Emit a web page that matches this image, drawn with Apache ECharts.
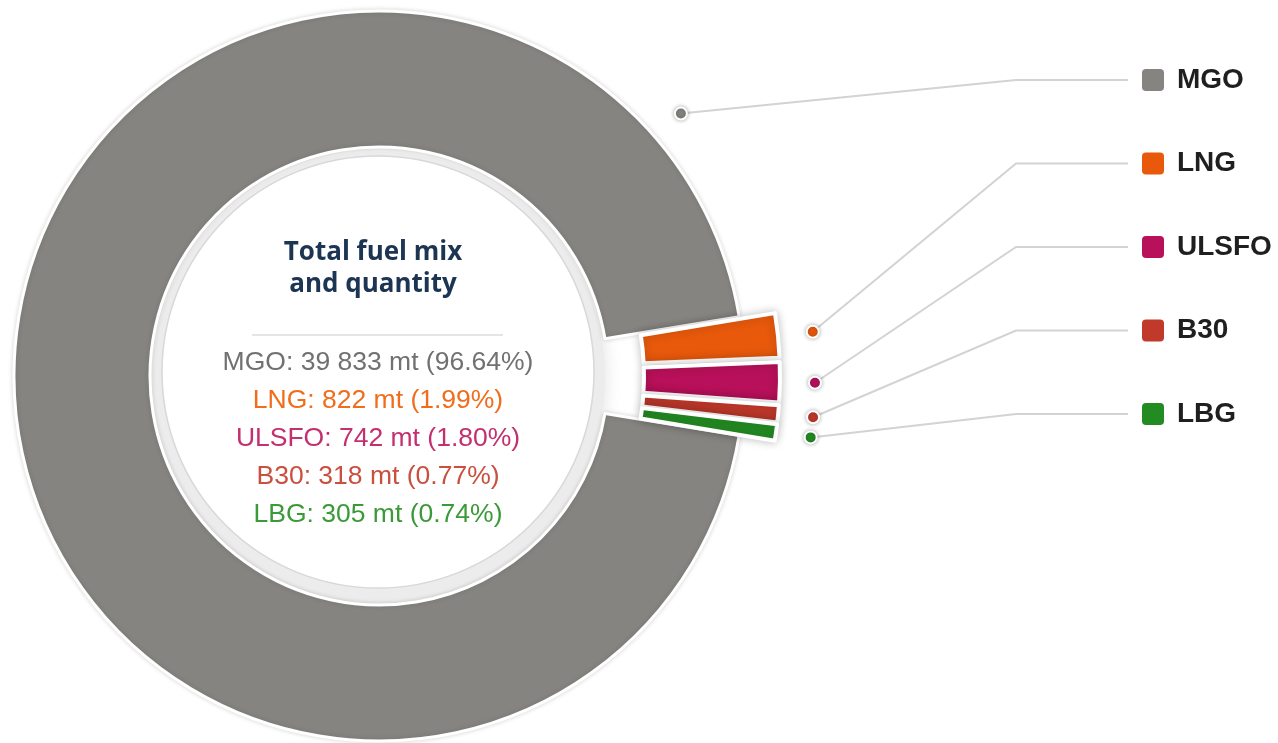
<!DOCTYPE html>
<html>
<head>
<meta charset="utf-8">
<script src="https://cdn.jsdelivr.net/npm/echarts@6/dist/echarts.min.js"></script>
<style>
  html, body { margin: 0; padding: 0; background: #ffffff; }
  #chart { width: 1278px; height: 743px; }
</style>
</head>
<body>
<div id="chart"></div>
<script>
// Fuel mix data
const fuels = ['MGO', 'LNG', 'ULSFO', 'B30', 'LBG'];
const quantities = [39833, 822, 742, 318, 305];
const shares = ['96.64%', '1.99%', '1.80%', '0.77%', '0.74%'];

// Colours
const sliceColors = ['#858480', '#e8590c', '#b8105a', '#c0392b', '#228b22'];
const textColors = ['#717171', '#f06d1c', '#c42f6f', '#c9503f', '#3b9a38'];

// Geometry of the donut and the callouts
const CX = 379, CY = 376, R0 = 229, R = 365;
const START_ANGLE = -9.4;
const EXPLODE = 36;
const DOT_GAP = 35;
const MAIN_ANCHOR_DEG = -41, MAIN_ANCHOR_R = 400;
const LEGEND_X = 1142, LEGEND_TOP = 80, LEGEND_STEP = 83.5;
const BEND_X = 1016, LINE_END_X = 1128;

const chart = echarts.init(document.getElementById('chart'), null, { renderer: 'canvas' });
const anchors = [];

function formatQty(v) {
  return String(v).replace(/\B(?=(\d{3})+(?!\d))/g, ' ');
}

// Start point of each callout line: at the slice's mid angle just outside
// the pulled-out slices; the large slice gets its anchor on the upper right.
function anchorOf(i) {
  const lay = chart.getModel().getSeriesByIndex(1).getData().getItemLayout(i);
  let ang, r;
  if (i === 0) {
    ang = MAIN_ANCHOR_DEG * Math.PI / 180;
    r = MAIN_ANCHOR_R;
  } else {
    ang = (lay.startAngle + lay.endAngle) / 2;
    r = lay.r + EXPLODE + DOT_GAP;
  }
  return [lay.cx + r * Math.cos(ang), lay.cy + r * Math.sin(ang)];
}

// Visible donut: the four small fuels are pulled out of the ring
const ringData = fuels.map(function (name, i) {
  const small = i > 0;
  return {
    name: name,
    value: quantities[i],
    selected: small,
    itemStyle: {
      color: sliceColors[i],
      borderColor: '#ffffff',
      borderWidth: small ? 4 : 3,
      shadowBlur: small ? 10 : 5,
      shadowColor: small ? 'rgba(0,0,0,0.22)' : 'rgba(0,0,0,0.14)'
    }
  };
});

// Same values again, drawn transparent, carrying the legend-style callouts
const calloutData = fuels.map(function (name, i) {
  return {
    name: name,
    value: quantities[i],
    label: {
      rich: {
        sq: { width: 22, height: 22, borderRadius: 4, backgroundColor: sliceColors[i] },
        t: { fontFamily: 'Liberation Sans', fontWeight: 'bold', fontSize: 28, color: '#1f1f1f', padding: [0, 0, 0, 13] }
      }
    }
  };
});

const option = {
  animation: false,
  backgroundColor: '#ffffff',
  series: [{
    type: 'pie',
    z: 2,
    center: [CX, CY],
    radius: [R0, R],
    startAngle: START_ANGLE,
    clockwise: true,
    selectedMode: 'multiple',
    selectedOffset: EXPLODE,
    silent: true,
    emphasis: { disabled: true },
    label: { show: false },
    labelLine: { show: false },
    data: ringData
  }, {
    type: 'pie',
    z: 3,
    center: [CX, CY],
    radius: [R0, R],
    startAngle: START_ANGLE,
    clockwise: true,
    silent: true,
    avoidLabelOverlap: false,
    emphasis: { disabled: true },
    itemStyle: { color: 'rgba(0,0,0,0)', borderWidth: 0 },
    label: {
      show: true,
      position: 'outside',
      formatter: function (p) { return '{sq|}{t|' + p.name + '}'; }
    },
    labelLine: {
      show: true,
      lineStyle: { color: '#d3d3d3', width: 2 }
    },
    labelLayout: function (p) {
      const i = p.dataIndex;
      const y = LEGEND_TOP + i * LEGEND_STEP;
      const a = anchorOf(i);
      anchors[i] = a;
      return {
        x: LEGEND_X,
        y: y,
        align: 'left',
        verticalAlign: 'middle',
        labelLinePoints: [a, [BEND_X, y], [LINE_END_X, y]]
      };
    },
    data: calloutData
  }]
};

chart.setOption(option);

// Centre disc, summary text and callout dots
const TX = 376;
const TITLE_FONT = 'bold 26px "Open Sans"';
const elements = [
  {
    type: 'circle', z: 1,
    shape: { cx: CX, cy: CY + 2, r: 226 },
    style: { fill: '#ececec', shadowBlur: 18, shadowColor: 'rgba(0,0,0,0.12)' }
  },
  {
    type: 'circle', z: 1,
    shape: { cx: CX - 1, cy: CY - 4, r: 216 },
    style: { fill: '#ffffff', stroke: '#d8d8d8', lineWidth: 1.5 }
  },
  {
    type: 'text', z: 4, x: TX - 3, y: 253,
    style: { text: 'Total fuel mix', fill: '#1c3552', font: TITLE_FONT, align: 'center', verticalAlign: 'middle', textAlign: 'center', textVerticalAlign: 'middle' }
  },
  {
    type: 'text', z: 4, x: TX - 3, y: 285,
    style: { text: 'and quantity', fill: '#1c3552', font: TITLE_FONT, align: 'center', verticalAlign: 'middle', textAlign: 'center', textVerticalAlign: 'middle' }
  },
  {
    type: 'line', z: 4,
    shape: { x1: 252, y1: 335, x2: 503, y2: 335 },
    style: { stroke: '#dcdcdc', lineWidth: 1.5 }
  }
];

fuels.forEach(function (name, i) {
  elements.push({
    type: 'text', z: 4, x: TX + 2, y: 362.5 + i * 38,
    style: {
      text: name + ': ' + formatQty(quantities[i]) + ' mt (' + shares[i] + ')',
      fill: textColors[i], font: '26.5px "Liberation Sans"',
      align: 'center', verticalAlign: 'middle', textAlign: 'center', textVerticalAlign: 'middle'
    }
  });
});

fuels.forEach(function (name, i) {
  const a = anchors[i] || anchorOf(i);
  elements.push({
    type: 'circle', z: 100,
    shape: { cx: a[0], cy: a[1], r: 6 },
    style: { fill: sliceColors[i], stroke: '#ffffff', lineWidth: 2, shadowBlur: 4, shadowColor: 'rgba(0,0,0,0.3)' }
  });
});

chart.setOption({ graphic: { elements: elements } });
</script>
</body>
</html>
